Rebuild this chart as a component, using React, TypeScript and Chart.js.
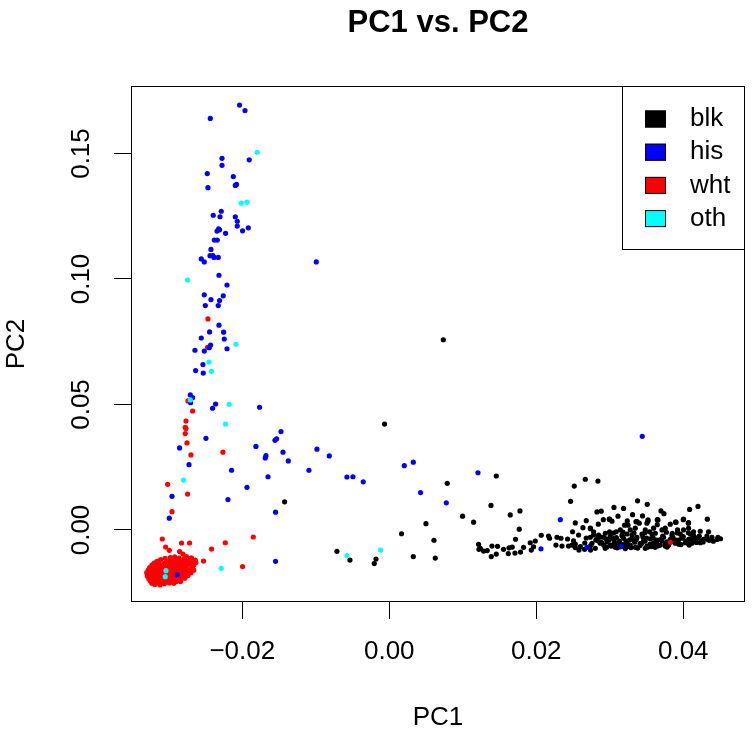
import React, { useEffect, useRef } from "react";
import { Chart, registerables } from "chart.js";

Chart.register(...registerables);

const FONT = "'Liberation Sans', Arial, Helvetica, sans-serif";

const chartTitle = "PC1 vs. PC2";
const xLabel = "PC1";
const yLabel = "PC2";
const groupLabels = ["blk", "his", "wht", "oth"];
const groupColors = ["#000000", "#0000FF", "#FF0000", "#00FFFF"];
const xTicks = [-0.02, 0, 0.02, 0.04];
const yTicks = [0, 0.05, 0.1, 0.15];
const xRange = [-0.03514, 0.0484];
const yRange = [-0.0287, 0.1769];

type P = [number, number];

const blkPoints: P[] = [
  [0.00735, 0.0758], [-0.00064, 0.0422], [-0.01424, 0.0112], [0.01456, 0.0215], [0.00789, 0.0186],
  [0.01384, 0.0098], [0.00997, 0.0055], [0.01147, 0.0031], [0.00499, 0.0025], [0.00167, -0.0015],
  [0.00608, -0.0041], [-0.00712, -0.0085], [-0.00535, -0.012], [-0.00204, -0.0134], [-0.00181, -0.0116],
  [0.00327, -0.0106], [0.00626, -0.0112], [0.01646, 0.006], [0.01778, 0.0076], [0.01769, 0.0003],
  [0.02667, 0.0202], [0.02839, 0.0195], [0.02517, 0.0175], [0.02467, 0.0114], [0.03378, 0.0116],
  [0.0351, 0.0102], [0.02826, 0.0072], [0.02884, 0.0075], [0.03057, 0.009], [0.03188, 0.0086],
  [0.04086, 0.0082], [0.042, 0.0094], [0.03697, 0.0076], [0.03737, 0.0065], [0.04327, 0.0043],
  [0.03112, 0.0055], [0.0331, 0.0061], [0.03446, 0.0056], [0.0268, 0.0037], [0.02531, 0.0028],
  [0.02912, 0.0041], [0.02997, 0.0043], [0.03238, 0.0036], [0.0337, 0.0033], [0.0352, 0.0036],
  [0.03646, 0.0041], [0.03895, 0.0031], [0.04, 0.0041], [0.04068, 0.0027], [0.04507, -0.0035],
  [0.04472, -0.0029], [0.04363, -0.0041], [0.04344, -0.0007], [0.04231, -0.0005], [0.04163, -0.0033],
  [0.04218, -0.0024], [0.04099, -0.0017], [0.03922, 0.0], [0.0385, -0.0013],
  [0.01238, -0.0073], [0.01215, -0.0057], [0.0122, -0.0077], [0.01283, -0.0084], [0.01333, -0.0082],
  [0.01397, -0.0064], [0.01473, -0.0065], [0.01388, -0.0106], [0.01456, -0.0096], [0.01555, -0.0077],
  [0.01629, -0.0071], [0.01673, -0.0068], [0.01619, -0.0094], [0.0171, -0.0092], [0.01786, -0.0088],
  [0.01718, -0.0037], [0.01827, -0.0069], [0.01918, -0.0051], [0.01986, -0.0044], [0.01963, -0.0067],
  [0.01932, -0.008], [0.02068, -0.0021], [0.02167, -0.0024], [0.02181, -0.0033], [0.02282, -0.0029],
  [0.02336, -0.0033], [0.02268, -0.006], [0.0235, -0.0064], [0.02426, -0.0036], [0.02507, -0.0043],
  [0.02439, -0.0064], [0.02486, -0.006], [0.02531, -0.0056], [0.02581, -0.008], [0.02657, -0.0077],
  [0.02739, -0.008], [0.02494, -0.0007], [0.02576, -0.002], [0.02635, 0.0009], [0.02739, 0.0005],
  [0.0268, -0.0032], [0.02735, -0.0029], [0.0278, -0.002], [0.02834, -0.0033],
  [0.02826, -0.004], [0.02871, -0.0053], [0.02916, -0.0029], [0.02962, -0.0047], [0.03007, -0.006],
  [0.03052, -0.0037], [0.03098, -0.0051], [0.03143, -0.0067], [0.03188, -0.0033], [0.03234, -0.0047],
  [0.03279, -0.006], [0.03324, -0.004], [0.0337, -0.0029], [0.03415, -0.0053], [0.0346, -0.0043],
  [0.03506, -0.0064], [0.03551, -0.0035], [0.03596, -0.0051], [0.03642, -0.004], [0.03687, -0.006],
  [0.03732, -0.0029], [0.03778, -0.0047], [0.03823, -0.0037], [0.03891, -0.0053], [0.03936, -0.004],
  [0.03982, -0.0029], [0.04027, -0.0051], [0.04072, -0.0037], [0.04118, -0.0053], [0.04177, -0.0043],
  [0.04231, -0.0051], [0.04276, -0.0037], [0.04322, -0.0024], [0.02758, -0.0053], [0.02803, -0.0073],
  [0.02939, -0.0073], [0.03075, -0.0069], [0.03211, -0.0074], [0.03347, -0.0069], [0.03483, -0.0073],
  [0.03619, -0.0069], [0.03755, -0.0064], [0.03007, -0.0024], [0.03166, -0.002], [0.03302, -0.002],
  [0.03438, -0.0016], [0.03574, -0.0016], [0.03846, -0.0021], [0.03959, -0.0016], [0.02848, -0.002],
  [0.03234, -0.0016], [0.02844, 0.0023], [0.03201, 0.0019], [0.03248, 0.0019], [0.03356, 0.0033],
  [0.03401, 0.0027], [0.0352, 0.004], [0.03506, 0.0027], [0.03656, 0.004], [0.03646, 0.0021],
  [0.03823, 0.0023], [0.03901, 0.0031], [0.04004, 0.0043], [0.04072, 0.0029], [0.02993, 0.0043],
  [0.0303, 0.0035], [0.02735, 0.0007], [0.0278, -0.0007], [0.02939, -0.0013], [0.02997, -0.0007],
  [0.03088, -0.0007], [0.03143, 0.0], [0.03279, 0.0], [0.03347, 0.0007], [0.03483, 0.0],
  [0.03542, -0.0007], [0.03596, 0.0007], [0.0371, 0.0], [0.03755, 0.0007], [0.04004, 0.0],
  [0.04072, 0.0007], [0.0414, -0.0007],
  [0.0285, -0.0045], [0.0292, -0.0061], [0.0299, -0.004], [0.0306, -0.0052], [0.0313, -0.0044],
  [0.032, -0.0058], [0.0327, -0.0039], [0.0334, -0.0049], [0.0341, -0.0062], [0.0348, -0.0045],
  [0.0355, -0.0056], [0.0362, -0.0047], [0.0369, -0.0038], [0.0376, -0.0055], [0.0383, -0.0048],
  [0.039, -0.004], [0.0397, -0.0058], [0.0404, -0.0044], [0.0411, -0.0036], [0.0418, -0.005],
  [0.0425, -0.0042], [0.0432, -0.0034], [0.0439, -0.0029], [0.0446, -0.0038], [0.0288, -0.0028],
  [0.0303, -0.0031], [0.0317, -0.0025], [0.0331, -0.0033], [0.0345, -0.0027], [0.0359, -0.0031],
  [0.0372, -0.0024], [0.0386, -0.003], [0.04, -0.0026], [0.0414, -0.0022], [0.0296, -0.0068],
  [0.031, -0.0071], [0.0324, -0.0066], [0.0338, -0.0072], [0.0352, -0.0068], [0.0366, -0.0063],
  [0.038, -0.0061], [0.0394, -0.0057], [0.0408, -0.006],
  [0.0289, -0.005], [0.0295, -0.0035], [0.0302, -0.0064], [0.0309, -0.003], [0.0315, -0.0055],
  [0.0322, -0.0044], [0.0329, -0.007], [0.0336, -0.0038], [0.0343, -0.0055], [0.035, -0.0032],
  [0.0357, -0.0066], [0.0364, -0.0054], [0.0371, -0.0044], [0.0378, -0.0068], [0.0385, -0.0036],
  [0.0392, -0.005], [0.0399, -0.0033], [0.0406, -0.0052], [0.0413, -0.0043], [0.042, -0.003],
  [0.0427, -0.0048], [0.0434, -0.004], [0.0441, -0.0045], [0.0305, -0.0012], [0.0318, -0.0008],
  [0.0333, -0.0012], [0.0348, -0.001], [0.0362, -0.0013], [0.0377, -0.0009], [0.0392, -0.0012],
  [0.0407, -0.0011], [0.0274, -0.0062], [0.0281, -0.004], [0.0266, -0.0052], [0.026, -0.0066],
  [0.0253, -0.007],
];

const hisPoints: P[] = [
  [-0.02037, 0.1693], [-0.01963, 0.1671], [-0.02435, 0.164], [-0.02276, 0.1481], [-0.01905, 0.1475],
  [-0.02276, 0.1453], [-0.02476, 0.142], [-0.02122, 0.1408], [-0.02467, 0.1364], [-0.02078, 0.1377],
  [-0.02095, 0.1373], [-0.02286, 0.127], [-0.02395, 0.1254], [-0.02303, 0.1248], [-0.02095, 0.1248],
  [-0.02068, 0.123], [-0.02068, 0.1211], [-0.01918, 0.1204], [-0.01996, 0.1192], [-0.02322, 0.12],
  [-0.02309, 0.1196], [-0.02344, 0.1191], [-0.02227, 0.1182], [-0.02381, 0.1155], [-0.0234, 0.1155],
  [-0.02426, 0.1118], [-0.02439, 0.1093], [-0.02399, 0.1093], [-0.02385, 0.1086], [-0.02327, 0.1086],
  [-0.02558, 0.108], [-0.02517, 0.1068], [-0.02317, 0.1015], [-0.02208, 0.0976], [-0.02517, 0.0937],
  [-0.02259, 0.0933], [-0.02426, 0.0918], [-0.02309, 0.0914], [-0.02503, 0.0894], [-0.02327, 0.0894],
  [-0.02317, 0.0816], [-0.02445, 0.0789], [-0.02254, 0.0788], [-0.02558, 0.0765], [-0.02245, 0.0761],
  [-0.02431, 0.0737], [-0.02449, 0.0726], [-0.02644, 0.0716], [-0.02517, 0.0713], [-0.02208, 0.0722],
  [-0.02535, 0.0659], [-0.02635, 0.0635], [-0.02531, 0.0625], [-0.02707, 0.0538], [-0.02676, 0.0527],
  [-0.02703, 0.0507], [-0.02363, 0.0502], [-0.02404, 0.0485], [-0.01765, 0.0489], [-0.02494, 0.0365],
  [-0.02853, 0.0327], [-0.02725, 0.026], [-0.02146, 0.0238], [-0.01936, 0.017], [-0.02195, 0.0121],
  [-0.02956, 0.0134], [-0.02993, 0.0047], [-0.01547, 0.0071], [-0.0165, 0.0212], [-0.01814, 0.0333],
  [-0.01687, 0.0287], [-0.01678, 0.0296], [-0.01555, 0.0357], [-0.01533, 0.0363], [-0.01473, 0.0392],
  [-0.01446, 0.031], [-0.01374, 0.0275], [-0.00984, 0.0322], [-0.00816, 0.0295], [-0.01093, 0.0238],
  [-0.00576, 0.0211], [-0.00494, 0.0212], [-0.00354, 0.0192], [0.00204, 0.0256], [0.00327, 0.027],
  [0.01207, 0.0228], [0.00426, 0.0149], [0.00776, 0.0108], [-0.01547, -0.0125], [-0.02884, -0.0178],
  [0.03442, 0.0373], [0.02327, 0.0041], [0.02064, -0.0075], [0.0269, -0.0069], [0.03161, -0.0065],
  [-0.00993, 0.1068],
];

const whtPoints: P[] = [
  [-0.02467, 0.0841], [-0.02472, 0.0728], [-0.02739, 0.0514], [-0.02676, 0.0474], [-0.02766, 0.0434],
  [-0.02776, 0.0409], [-0.02766, 0.0404], [-0.02776, 0.0384], [-0.02752, 0.0347], [-0.02698, 0.0299],
  [-0.02263, 0.031], [-0.03016, 0.0182], [-0.02744, 0.0143], [-0.02956, 0.0073], [-0.0185, -0.0028],
  [-0.03088, -0.0036], [-0.02826, -0.0052], [-0.02717, -0.0052], [-0.02231, -0.0051], [-0.02418, -0.0076],
  [-0.03043, -0.0068], [-0.02993, -0.0081], [-0.02527, -0.0124], [-0.01996, -0.0146], [-0.02694, -0.0112],
  [-0.02853, -0.0086], [-0.02807, -0.0096], [0.03823, -0.0049],
  [-0.0318, -0.0205], [-0.0321, -0.0198], [-0.0314, -0.0211], [-0.0309, -0.0202], [-0.0324, -0.0189],
  [-0.0317, -0.0192], [-0.0311, -0.0194], [-0.0305, -0.0199], [-0.0302, -0.0207], [-0.0313, -0.0184],
  [-0.032, -0.018], [-0.0326, -0.0176], [-0.0308, -0.0187], [-0.03, -0.019], [-0.0296, -0.0198],
  [-0.0316, -0.0172], [-0.031, -0.0176], [-0.0304, -0.018], [-0.0298, -0.0183], [-0.0292, -0.0189],
  [-0.0322, -0.0168], [-0.0314, -0.0164], [-0.0307, -0.0168], [-0.0301, -0.0172], [-0.0295, -0.0176],
  [-0.0289, -0.0179], [-0.0319, -0.0158], [-0.0311, -0.0156], [-0.0304, -0.016], [-0.0297, -0.0163],
  [-0.0291, -0.0168], [-0.0285, -0.0171], [-0.0316, -0.0149], [-0.0308, -0.0147], [-0.03, -0.0152],
  [-0.0293, -0.0155], [-0.0287, -0.0159], [-0.0281, -0.0162], [-0.0312, -0.014], [-0.0303, -0.0143],
  [-0.0296, -0.0145], [-0.0289, -0.0148], [-0.0283, -0.0151], [-0.0277, -0.0154], [-0.0306, -0.0133],
  [-0.0298, -0.0136], [-0.0291, -0.0138], [-0.0284, -0.0141], [-0.0278, -0.0143], [-0.0301, -0.0125],
  [-0.0294, -0.0128], [-0.0287, -0.0131], [-0.028, -0.0133], [-0.0273, -0.0136], [-0.0296, -0.0118],
  [-0.0289, -0.012], [-0.0283, -0.0123], [-0.0276, -0.0126], [-0.027, -0.0129], [-0.0286, -0.0112],
  [-0.0279, -0.0115], [-0.0272, -0.0118], [-0.0323, -0.0212], [-0.0319, -0.0217], [-0.0312, -0.0219],
  [-0.0306, -0.0214], [-0.0299, -0.0211], [-0.0327, -0.0195], [-0.0329, -0.0184], [-0.0325, -0.0203],
  [-0.0318, -0.02], [-0.031, -0.0207], [-0.0303, -0.0194], [-0.0297, -0.0203], [-0.0293, -0.0195],
  [-0.0315, -0.018], [-0.0309, -0.0183], [-0.0302, -0.0186], [-0.0306, -0.0175], [-0.0299, -0.0178],
  [-0.0318, -0.0165], [-0.0312, -0.017], [-0.0305, -0.0163], [-0.0299, -0.0167], [-0.0294, -0.0171],
  [-0.031, -0.0161], [-0.0302, -0.0156], [-0.0296, -0.0159], [-0.0288, -0.0163], [-0.0309, -0.0152],
  [-0.0298, -0.0149], [-0.029, -0.0143], [-0.0284, -0.0146], [-0.0279, -0.0149], [-0.0305, -0.0139],
  [-0.0293, -0.0133], [-0.0288, -0.0126], [-0.0275, -0.0139], [-0.0282, -0.0136], [-0.03, -0.0145],
  [-0.0314, -0.0196], [-0.0307, -0.0192], [-0.032, -0.0188], [-0.0311, -0.0188], [-0.0304, -0.0204],
  [-0.0316, -0.0209], [-0.03, -0.0198], [-0.0296, -0.0186], [-0.029, -0.0182],
  [-0.0316, -0.0125], [-0.0311, -0.0118], [-0.0305, -0.0113], [-0.0298, -0.011], [-0.0292, -0.0107],
  [-0.032, -0.0132], [-0.0323, -0.014], [-0.0326, -0.015], [-0.0328, -0.016], [-0.033, -0.017],
  [-0.0317, -0.0135], [-0.0313, -0.013], [-0.0319, -0.0145], [-0.0324, -0.0158],
  [-0.029, -0.0205], [-0.0286, -0.0196], [-0.0282, -0.0188], [-0.0279, -0.0178], [-0.0276, -0.0168],
  [-0.0272, -0.0158], [-0.0268, -0.0148], [-0.0284, -0.0205], [-0.0293, -0.0212], [-0.0278, -0.0192],
  [-0.0274, -0.0181], [-0.027, -0.017], [-0.0266, -0.016], [-0.0266, -0.014], [-0.0263, -0.013],
  [-0.0276, -0.0106], [-0.0269, -0.0112], [-0.0264, -0.012],
];

const othPoints: P[] = [
  [-0.01796, 0.1505], [-0.02014, 0.1302], [-0.01936, 0.1306], [-0.02744, 0.0996], [-0.02086, 0.074],
  [-0.02453, 0.0669], [-0.02418, 0.0632], [-0.02177, 0.0501], [-0.02227, 0.0422], [-0.02799, 0.0199],
  [-0.02286, -0.0153], [-0.03038, -0.0162], [-0.03048, -0.0186], [-0.00576, -0.0102], [-0.00118, -0.008],
  [-0.02707, 0.0518],
];

const seriesPoints = [blkPoints, hisPoints, whtPoints, othPoints];
const drawOrder = [4, 2, 3, 1];

const fmt = (v: number) => (v < 0 ? "\u2212" : "") + Math.abs(v).toFixed(2);

const decorPlugin = {
  id: "decor",
  afterDraw(chart: any) {
    const { ctx, chartArea: a } = chart;
    ctx.save();
    ctx.strokeStyle = "#000";
    ctx.lineWidth = 1;
    ctx.strokeRect(a.left + 0.5, a.top + 0.5, a.right - a.left - 1, a.bottom - a.top - 1);

    ctx.fillStyle = "#000";
    ctx.font = `bold 31px ${FONT}`;
    ctx.textAlign = "center";
    ctx.textBaseline = "middle";
    ctx.fillText(chartTitle, (a.left + a.right) / 2, 23);

    const lw = 123;
    const lh = 163;
    const lx = a.right - lw;
    const ly = a.top;
    ctx.fillStyle = "#fff";
    ctx.fillRect(lx, ly, lw, lh);
    ctx.strokeStyle = "#000";
    ctx.strokeRect(lx + 0.5, ly + 0.5, lw - 1, lh);
    ctx.font = `26px ${FONT}`;
    ctx.textAlign = "left";
    groupLabels.forEach((lab, i) => {
      const cy = ly + 33 + i * 33.2;
      ctx.fillStyle = groupColors[i];
      ctx.fillRect(lx + 23, cy - 8.5, 21, 17);
      ctx.strokeStyle = "#000";
      ctx.strokeRect(lx + 23.5, cy - 8, 20, 16);
      ctx.fillStyle = "#000";
      ctx.fillText(lab, lx + 68, cy);
    });
    ctx.restore();
  },
};

export default function App() {
  const ref = useRef<HTMLCanvasElement | null>(null);
  useEffect(() => {
    if (!ref.current) return;
    const chart = new Chart(ref.current, {
      type: "scatter",
      data: {
        datasets: groupLabels.map((lab, i) => ({
          label: lab,
          data: seriesPoints[i].map(([x, y]) => ({ x, y })),
          backgroundColor: groupColors[i],
          borderColor: groupColors[i],
          borderWidth: 0,
          pointRadius: 2.6,
          order: drawOrder[i],
        })),
      },
      options: {
        responsive: false,
        animation: false,
        events: [],
        layout: { padding: { top: 86, right: 9, left: 0, bottom: 0 } },
        plugins: { legend: { display: false }, tooltip: { enabled: false }, title: { display: false } },
        scales: {
          x: {
            type: "linear",
            min: xRange[0],
            max: xRange[1],
            afterBuildTicks: (s: any) => {
              s.ticks = xTicks.map((v) => ({ value: v }));
            },
            afterFit: (s: any) => {
              s.height = 134;
            },
            border: { display: false },
            grid: { drawOnChartArea: false, drawTicks: true, tickLength: 17, color: "#000", lineWidth: 1 },
            ticks: {
              callback: (v: any) => fmt(Number(v)),
              color: "#000",
              font: { family: FONT, size: 26 },
              padding: 17,
              maxRotation: 0,
              autoSkip: false,
            },
            title: { display: true, text: xLabel, color: "#000", font: { family: FONT, size: 26 }, padding: { top: 0, bottom: 3 } },
          },
          y: {
            type: "linear",
            min: yRange[0],
            max: yRange[1],
            afterBuildTicks: (s: any) => {
              s.ticks = yTicks.map((v) => ({ value: v }));
            },
            afterFit: (s: any) => {
              s.width = 131;
            },
            border: { display: false },
            grid: { drawOnChartArea: false, drawTicks: true, tickLength: 17, color: "#000", lineWidth: 1 },
            ticks: {
              callback: (v: any) => fmt(Number(v)),
              color: "#000",
              font: { family: FONT, size: 26 },
              padding: 7,
              minRotation: 90,
              maxRotation: 90,
              crossAlign: "center",
              autoSkip: false,
            },
            title: { display: true, text: yLabel, color: "#000", font: { family: FONT, size: 26 }, padding: { top: 1, bottom: 0 } },
          },
        },
      },
      plugins: [decorPlugin],
    } as any);
    return () => chart.destroy();
  }, []);
  return (
    <div style={{ position: "absolute", left: 0, top: 0, width: 754, height: 736, background: "#fff" }}>
      <canvas ref={ref} width={754} height={736} />
    </div>
  );
}
